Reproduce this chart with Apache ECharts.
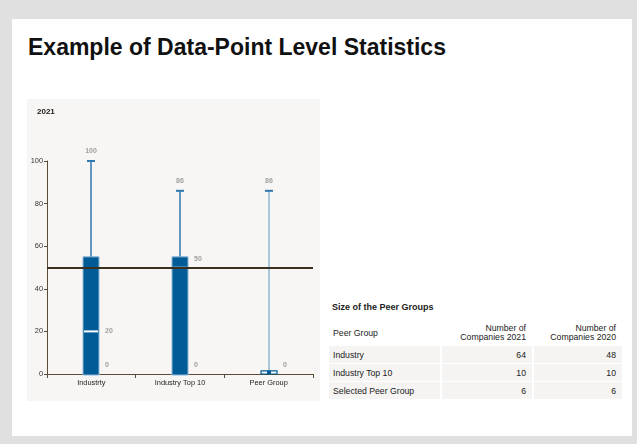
<!DOCTYPE html>
<html>
<head>
<meta charset="utf-8">
<script src="https://cdn.jsdelivr.net/npm/echarts@6/dist/echarts.min.js"></script>
<style>
  html, body { margin:0; padding:0; }
  body { width:637px; height:444px; background:#e0e0e0; position:relative; overflow:hidden; font-family:"Liberation Sans", Arial, sans-serif; }
  #panel { position:absolute; left:12px; top:19px; width:620px; height:417px; background:#ffffff; }
  #title { position:absolute; left:28px; top:34px; font-size:23px; font-weight:bold; color:#111; letter-spacing:0px; white-space:nowrap; }
  #chart { position:absolute; left:27px; top:99px; width:293px; height:302px; background:#f7f6f4; }
  #tblTitle { position:absolute; left:332px; top:302px; font-size:9px; font-weight:bold; color:#222; }
  table { position:absolute; left:329px; top:320px; width:293px; table-layout:fixed; border-collapse:separate; border-spacing:0 1px; font-size:8.7px; color:#222; }
  th { font-weight:normal; text-align:left; padding:0 4px; height:24px; vertical-align:middle; line-height:9px; white-space:nowrap; }
  th.num { text-align:right; padding-right:6px; }
  td { background:#f5f4f2; height:17px; padding:0 4px; vertical-align:middle; white-space:nowrap; }
  td.num { text-align:right; border-left:2px solid #fff; padding-right:6px; }
</style>
</head>
<body>
<div id="panel"></div>
<div id="title">Example of Data-Point Level Statistics</div>
<div id="chart"></div>
<div id="tblTitle">Size of the Peer Groups</div>
<table id="tbl"><colgroup><col style="width:111px"><col style="width:92px"><col style="width:90px"></colgroup></table>
<script>
// ---- chart data ----
const categories = ['Industrty', 'Industry Top 10', 'Peer Group'];
const minVals    = [0, 0, 0];
const q1Vals     = [0, 0, 0];
const medianVals = [20, 50, 0];
const q3Vals     = [55, 55, 1.5];
const maxVals    = [100, 86, 86];
const referenceValue = 50;
const chartYear = '2021';
const yMin = 0, yMax = 100, yInterval = 20;

// ---- table data ----
const tableHeaders = ['Peer Group', 'Number of<br>Companies 2021', 'Number of<br>Companies 2020'];
const peerGroups   = ['Industry', 'Industry Top 10', 'Selected Peer Group'];
const companies2021 = [64, 10, 6];
const companies2020 = [48, 10, 6];

// build table
(function(){
  const t = document.getElementById('tbl');
  let h = '<tr><th>' + tableHeaders[0] + '</th><th class="num">' + tableHeaders[1] + '</th><th class="num">' + tableHeaders[2] + '</th></tr>';
  peerGroups.forEach((g, i) => {
    h += '<tr><td>' + g + '</td><td class="num">' + companies2021[i] + '</td><td class="num">' + companies2020[i] + '</td></tr>';
  });
  t.insertAdjacentHTML('beforeend', h);
})();

const boxData = categories.map((c, i) => [i, minVals[i], q1Vals[i], medianVals[i], q3Vals[i], maxVals[i]]);

const chart = echarts.init(document.getElementById('chart'), null, {renderer:'canvas'});
const labelFont = 'bold 7px "Liberation Sans", Arial, sans-serif';
const labelColor = '#a0a0a0';

function renderItem(params, api) {
  const i = api.value(0);
  const xc = Math.round(api.coord([i, 0])[0]);
  const yLo = api.coord([i, api.value(1)])[1];
  const yQ1 = api.coord([i, api.value(2)])[1];
  const yMed = api.coord([i, api.value(3)])[1];
  const yQ3 = api.coord([i, api.value(4)])[1];
  const yHi = api.coord([i, api.value(5)])[1];
  const yRef = api.coord([i, referenceValue])[1];
  const selected = (i === 2);
  const bw = 16;
  const whiskerColor = selected ? '#8fb7d6' : '#2f78b0';
  const children = [];
  children.push({ type:'line', shape:{x1:xc, y1:yHi, x2:xc, y2:yLo}, style:{stroke:whiskerColor, lineWidth:1.5} });
  children.push({ type:'line', shape:{x1:xc-4, y1:yHi, x2:xc+4, y2:yHi}, style:{stroke:'#2f78b0', lineWidth:2} });
  const boxH = Math.max(yQ1 - yQ3, 3);
  if (selected) {
    children.push({ type:'rect', shape:{x:xc-bw/2, y:yQ1-boxH, width:bw, height:boxH}, style:{fill:'#ffffff', stroke:'#005b96', lineWidth:1.2} });
    children.push({ type:'rect', shape:{x:xc-2, y:yQ1-boxH, width:4, height:boxH}, style:{fill:'#005b96'} });
  } else {
    children.push({ type:'rect', shape:{x:xc-bw/2, y:yQ3, width:bw, height:yQ1-yQ3+1}, style:{fill:'#005b96', stroke:'#8db7d8', lineWidth:1} });
    children.push({ type:'line', shape:{x1:xc-bw/2+1, y1:yMed, x2:xc+bw/2-1, y2:yMed}, style:{stroke:'#ffffff', lineWidth:2, opacity: (api.value(3) === referenceValue ? 0.5 : 1)} });
  }
  // labels
  children.push({ type:'text', style:{text:String(api.value(5)), x:xc, y:yHi-10, align:'center', verticalAlign:'middle', font:labelFont, fill:labelColor} });
  if (api.value(3) !== api.value(1)) {
    const dy = Math.abs(yMed - yRef) < 6 ? -8 : 0;
    children.push({ type:'text', style:{text:String(api.value(3)), x:xc+bw/2+6, y:yMed+dy, align:'left', verticalAlign:'middle', font:labelFont, fill:labelColor} });
  }
  children.push({ type:'text', style:{text:String(api.value(1)), x:xc+bw/2+6, y:yLo-9, align:'left', verticalAlign:'middle', font:labelFont, fill:labelColor} });
  return { type:'group', children };
}

chart.setOption({
  animation:false,
  title:{ text:chartYear, left:10, top:9, padding:0, textStyle:{ fontSize:8, fontWeight:'bold', color:'#222', fontFamily:'"Liberation Sans", Arial, sans-serif' } },
  grid:{ left:20, right:7, top:62, bottom:27 },
  xAxis:{
    type:'category', data:categories, boundaryGap:true,
    axisLine:{ lineStyle:{ color:'#5b4a36', width:1 } },
    axisTick:{ show:true, length:4, lineStyle:{ color:'#5b4a36' } },
    axisLabel:{ fontSize:7.4, color:'#222', margin:5, fontFamily:'"Liberation Sans", Arial, sans-serif' }
  },
  yAxis:{
    type:'value', min:yMin, max:yMax, interval:yInterval,
    axisLine:{ show:true, lineStyle:{ color:'#5b4a36', width:1 } },
    axisTick:{ show:true, length:3, lineStyle:{ color:'#5b4a36' } },
    splitLine:{ show:false },
    axisLabel:{ fontSize:7.4, color:'#333', margin:4, fontFamily:'"Liberation Sans", Arial, sans-serif' }
  },
  series:[{
    type:'custom',
    renderItem: renderItem,
    data: boxData,
    encode:{ x:0, y:[1,2,3,4,5] },
    clip:false,
    z:2
  },{
    type:'line',
    data:[],
    markLine:{
      silent:true, symbol:'none', z:5,
      label:{ show:false },
      lineStyle:{ color:'#3b2f1f', width:2, type:'solid' },
      data:[{ yAxis: referenceValue }]
    }
  }]
});
</script>
</body>
</html>
